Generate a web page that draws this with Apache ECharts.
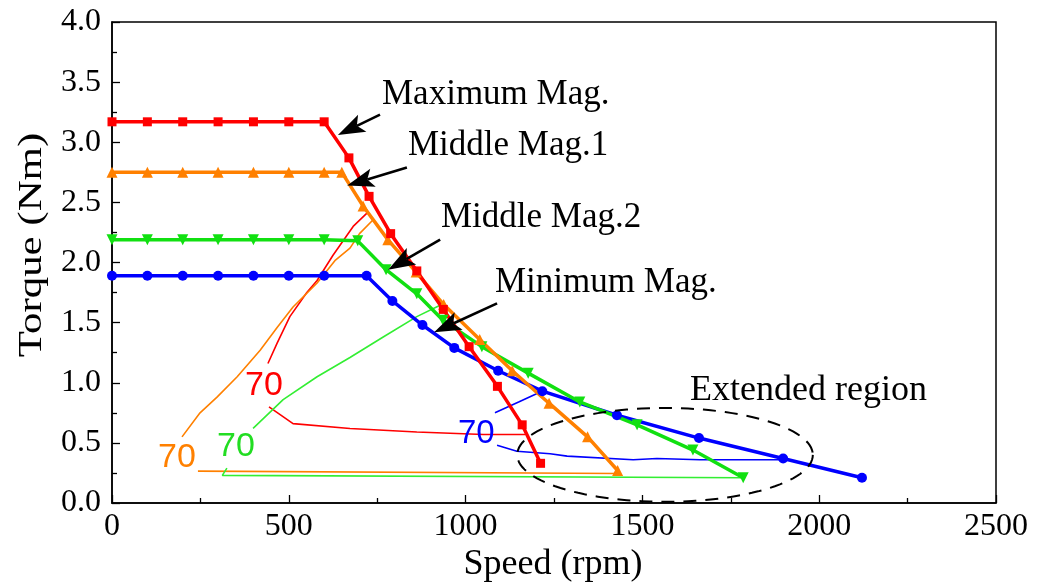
<!DOCTYPE html>
<html>
<head>
<meta charset="utf-8">
<script src="https://cdn.jsdelivr.net/npm/echarts@6/dist/echarts.min.js"></script>
<style>
html,body{margin:0;padding:0;background:#fff;}
#c{width:1043px;height:582px;}
</style>
</head>
<body>
<div id="c"></div>
<script>
// ---- data ----
const xTicks = [0, 500, 1000, 1500, 2000, 2500];
const yTicks = [0, 0.5, 1.0, 1.5, 2.0, 2.5, 3.0, 3.5, 4.0];

const maxMagX = [0,100,200,300,400,500,600,670,727,788,862,937,1010,1090,1160,1212];
const maxMagY = [3.17,3.17,3.17,3.17,3.17,3.17,3.17,2.87,2.55,2.24,1.93,1.61,1.30,0.97,0.65,0.33];

const mid1X = [0,100,200,300,400,500,600,650,710,780,860,938,1040,1132,1236,1345,1430];
const mid1Y = [2.75,2.75,2.75,2.75,2.75,2.75,2.75,2.75,2.47,2.19,1.92,1.65,1.36,1.10,0.83,0.55,0.27];

const mid2X = [0,100,200,300,400,500,600,695,775,862,936,1046,1177,1323,1485,1643,1785];
const mid2Y = [2.19,2.19,2.19,2.19,2.19,2.19,2.19,2.18,1.94,1.74,1.52,1.30,1.08,0.84,0.65,0.44,0.21];

const minMagX = [0,100,200,300,400,500,600,720,793,878,968,1092,1217,1428,1660,1898,2121];
const minMagY = [1.89,1.89,1.89,1.89,1.89,1.89,1.89,1.89,1.68,1.48,1.29,1.10,0.93,0.73,0.54,0.37,0.21];

// 70% efficiency contours (thin lines)
const redC1X = [441,467,503,551,580,625,682,721];
const redC1Y = [1.16,1.33,1.55,1.75,1.85,2.06,2.30,2.41];
const redC2X = [444,512,673,862,1050,1168];
const redC2Y = [0.80,0.66,0.62,0.59,0.57,0.57];

const orC1X = [198,249,297,354,419,467,512,580,632,673,700,740];
const orC1Y = [0.55,0.75,0.88,1.05,1.27,1.46,1.63,1.83,2.02,2.12,2.24,2.36];
const orC2X = [243,1430];
const orC2Y = [0.265,0.245];

const grC1X = [399,484,580,673,767,862,925];
const grC1Y = [0.62,0.86,1.05,1.21,1.38,1.55,1.64];
const grC2X = [325,312,1785];
const grC2Y = [0.29,0.23,0.21];

const blC1X = [1083,1150,1216];
const blC1Y = [0.75,0.84,0.93];
const blC2X = [1089,1145,1239,1287,1474,1541,1663,1898];
const blC2Y = [0.48,0.43,0.41,0.39,0.36,0.37,0.36,0.36];

// annotation arrows: [startX, startY, tipX, tipY]
const arrowMax = [758, 3.23, 639, 3.06];
const arrowMid1 = [834, 2.79, 665, 2.64];
const arrowMid2 = [928, 2.19, 781, 1.94];
const arrowMin = [1089, 1.66, 911, 1.42];

const RED = '#ff0000', ORANGE = '#ff8000', GREEN = '#11e011', BLUE = '#0000ff';
const SERIF = "'Liberation Serif', 'Times New Roman', serif";
const SANS = "'Liberation Sans', Arial, sans-serif";

function pairs(xs, ys) { return xs.map((x, i) => [x, ys[i]]); }

function thick(name, xs, ys, color, symbol, size, rot) {
  return {
    name, type: 'line', data: pairs(xs, ys), z: 5, clip: false,
    lineStyle: { color, width: 3.5 },
    itemStyle: { color },
    symbol, symbolSize: size, symbolRotate: rot || 0, showSymbol: true
  };
}
function thin(xs, ys, color) {
  return {
    type: 'line', data: pairs(xs, ys), z: 3, symbol: 'none',
    lineStyle: { color, width: 1.6 }, silent: true
  };
}

const chart = echarts.init(document.getElementById('c'));

chart.setOption({
  animation: false,
  backgroundColor: '#fff',
  grid: { left: 112, right: 47, top: 22, bottom: 79, show: true, borderColor: '#000', borderWidth: 1.5 },
  xAxis: {
    type: 'value', min: 0, max: 2500, interval: 500,
    axisLine: { lineStyle: { color: '#000', width: 1.5 } },
    axisTick: { inside: true, length: 8, lineStyle: { color: '#000', width: 1.3 } },
    minorTick: { show: true, splitNumber: 2, length: 5, lineStyle: { color: '#000', width: 1.3 } },
    splitLine: { show: false },
    axisLabel: { show: false }
  },
  yAxis: {
    type: 'value', min: 0, max: 4, interval: 0.5,
    axisLine: { lineStyle: { color: '#000', width: 1.5 } },
    axisTick: { inside: true, length: 8, lineStyle: { color: '#000', width: 1.3 } },
    minorTick: { show: true, splitNumber: 2, length: 5, lineStyle: { color: '#000', width: 1.3 } },
    splitLine: { show: false },
    axisLabel: { show: false }
  },
  series: [
    thin(redC1X, redC1Y, RED), thin(redC2X, redC2Y, RED),
    thin(orC1X, orC1Y, ORANGE), thin(orC2X, orC2Y, ORANGE),
    thin(grC1X, grC1Y, '#33ee33'), thin(grC2X, grC2Y, '#33ee33'),
    thin(blC1X, blC1Y, BLUE), thin(blC2X, blC2Y, BLUE),
    thick('Minimum Mag.', minMagX, minMagY, BLUE, 'circle', 10),
    thick('Middle Mag.2', mid2X, mid2Y, GREEN, 'triangle', 11, 180),
    thick('Middle Mag.1', mid1X, mid1Y, ORANGE, 'triangle', 11),
    thick('Maximum Mag.', maxMagX, maxMagY, RED, 'rect', 9)
  ]
});

const px = (x, y) => chart.convertToPixel({ gridIndex: 0 }, [x, y]);

// ellipse ("Extended region")
const c = px(1564, 0.40);
const e1 = px(1564 + 418, 0.40 + 0.39);
const rx = e1[0] - c[0], ry = c[1] - e1[1];
const ell = [];
for (let i = 0; i < 120; i++) {
  const t = i / 120 * Math.PI * 2;
  ell.push([c[0] + rx * Math.cos(t), c[1] + ry * Math.sin(t)]);
}

// arrows
function arrow(a) {
  const s = px(a[0], a[1]);
  const t = px(a[2], a[3]);
  const dx = t[0] - s[0], dy = t[1] - s[1];
  const len = Math.hypot(dx, dy);
  const ux = dx / len, uy = dy / len, nx = -uy, ny = ux;
  const L = 27, W = 9.5, notch = 6;
  const back = [t[0] - ux * L, t[1] - uy * L];
  const mid = [t[0] - ux * (L - notch), t[1] - uy * (L - notch)];
  return [
    { type: 'line', z: 18, shape: { x1: s[0], y1: s[1], x2: mid[0], y2: mid[1] },
      style: { stroke: '#000', lineWidth: 2.6 } },
    { type: 'polygon', z: 18, shape: { points: [
        t, [back[0] + nx * W, back[1] + ny * W], mid, [back[0] - nx * W, back[1] - ny * W]
      ] }, style: { fill: '#000', stroke: 'none' } }
  ];
}

function txt(x, y, s, color, size, family, align) {
  return {
    type: 'text', x, y, z: 20,
    style: { text: s, fill: color, font: size + 'px ' + family, textVerticalAlign: 'middle', textAlign: align || 'left' }
  };
}

// tick labels (drawn as text at the axis scale positions)
const tickLabels = [];
xTicks.forEach(v => { const p = px(v, 0); tickLabels.push(txt(p[0], p[1] + 24, String(v), '#000', 32, SERIF, 'center')); });
yTicks.forEach(v => { const p = px(0, v); tickLabels.push(txt(p[0] - 11, p[1], v.toFixed(1), '#000', 32, SERIF, 'right')); });

chart.setOption({
  graphic: [
    { type: 'polygon', z: 6, shape: { points: ell },
      style: { fill: 'none', stroke: '#000', lineWidth: 2, lineDash: [13, 9] } },
    ...arrow(arrowMax), ...arrow(arrowMid1), ...arrow(arrowMid2), ...arrow(arrowMin),
    ...tickLabels,
    txt(382, 95, 'Maximum Mag.', '#000', 35, SERIF),
    txt(408, 146, 'Middle Mag.1', '#000', 35, SERIF),
    txt(441, 218, 'Middle Mag.2', '#000', 35, SERIF),
    txt(495, 283, 'Minimum Mag.', '#000', 35, SERIF),
    txt(690, 391, 'Extended region', '#000', 36, SERIF),
    txt(245, 386, '70', RED, 34, SANS),
    txt(158, 458, '70', ORANGE, 34, SANS),
    txt(217, 447, '70', '#22dd22', 34, SANS),
    txt(458, 434, '70', BLUE, 33, SANS),
    txt(553, 565, 'Speed (rpm)', '#000', 36, SERIF, 'center'),
    { type: 'text', x: 32, y: 245, z: 20, rotation: Math.PI / 2, scaleX: 1.3,
      style: { text: 'Torque (Nm)', fill: '#000', font: '33px ' + SERIF, textAlign: 'center', textVerticalAlign: 'middle' } }
  ]
});
</script>
</body>
</html>
